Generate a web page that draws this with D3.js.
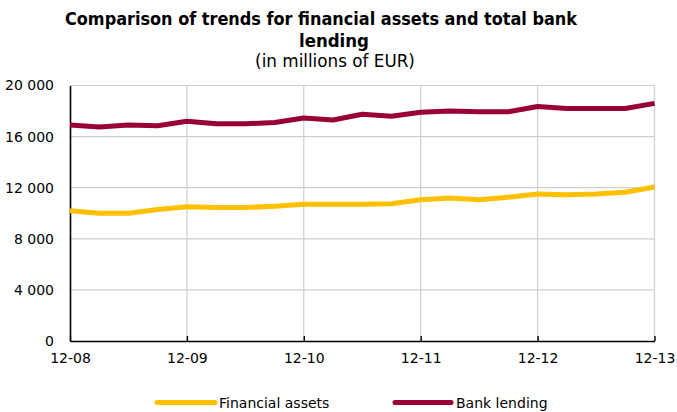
<!DOCTYPE html>
<html>
<head>
<meta charset="utf-8">
<script src="https://cdn.jsdelivr.net/npm/d3@7"></script>
<style>
  html, body { margin: 0; padding: 0; background: #fff; }
  svg { display: block; font-family: "DejaVu Sans", Verdana, sans-serif; }
</style>
</head>
<body>
<svg id="chart" width="677" height="412"></svg>
<script>
// Quarterly observations, Dec 2008 – Dec 2013 (millions of EUR)
const periods = ["12-08","03-09","06-09","09-09","12-09","03-10","06-10","09-10","12-10",
                 "03-11","06-11","09-11","12-11","03-12","06-12","09-12","12-12",
                 "03-13","06-13","09-13","12-13"];
const financialAssets = [10200,10000,10000,10300,10500,10450,10450,10550,10700,10700,10700,
                         10750,11050,11200,11050,11250,11500,11450,11500,11650,12050];
const bankLending = [16900,16750,16900,16850,17200,17000,17000,17100,17450,17300,17750,
                     17600,17900,18000,17950,17950,18350,18200,18200,18200,18600];
const xTickLabels = ["12-08","12-09","12-10","12-11","12-12","12-13"];
const yTicks = [0,4000,8000,12000,16000,20000];

const seriesList = [
  { name: "Financial assets", values: financialAssets, color: "#ffc000" },
  { name: "Bank lending", values: bankLending, color: "#990033" }
];

const svg = d3.select("#chart");
const plotLeft = 70, plotRight = 654.5, plotTop = 85.5, plotBottom = 341;

const x = d3.scalePoint().domain(periods).range([plotLeft, plotRight]);
const y = d3.scaleLinear().domain([0, 20000]).range([plotBottom, plotTop]);
const fmt = v => d3.format(",")(v).replace(/,/g, " ");

// gridlines
const grid = svg.append("g");
grid.selectAll("line.h").data(yTicks.filter(d => d > 0)).join("line")
  .attr("class", "h")
  .attr("x1", plotLeft).attr("x2", plotRight)
  .attr("y1", d => y(d)).attr("y2", d => y(d))
  .attr("stroke", "#cfcfcf").attr("stroke-width", 1.2);
grid.selectAll("line.v").data(xTickLabels.slice(1)).join("line")
  .attr("class", "v")
  .attr("x1", d => x(d)).attr("x2", d => x(d))
  .attr("y1", plotTop).attr("y2", plotBottom)
  .attr("stroke", "#cfcfcf").attr("stroke-width", 1.2);

// axes
const yAxis = d3.axisLeft(y).tickValues(yTicks).tickSize(0).tickPadding(16).tickFormat(fmt);
svg.append("g").attr("transform", `translate(${plotLeft},0)`).call(yAxis)
  .call(g => g.select(".domain").attr("stroke", "#000").attr("stroke-width", 1.6))
  .call(g => g.selectAll("text").attr("font-size", 14).attr("fill", "#000")
                .attr("font-family", "DejaVu Sans, Verdana, sans-serif"));

const xAxis = d3.axisBottom(x).tickValues(xTickLabels).tickSizeInner(-5).tickSizeOuter(0).tickPadding(12);
svg.append("g").attr("transform", `translate(0,${plotBottom})`).call(xAxis)
  .call(g => g.select(".domain").attr("stroke", "#000").attr("stroke-width", 1.6))
  .call(g => g.selectAll(".tick line").attr("stroke", "#000").attr("stroke-width", 1.4))
  .call(g => g.selectAll("text").attr("font-size", 14).attr("fill", "#000")
                .attr("font-family", "DejaVu Sans, Verdana, sans-serif"));

// series lines
const line = d3.line().x((d, i) => x(periods[i])).y(d => y(d));
svg.append("g").selectAll("path").data(seriesList).join("path")
  .attr("d", s => line(s.values))
  .attr("fill", "none")
  .attr("stroke", s => s.color)
  .attr("stroke-width", 5)
  .attr("stroke-linejoin", "round")
  .attr("stroke-linecap", "butt");

// title (bold, slightly condensed)
const title = svg.append("g").attr("text-anchor", "middle").attr("fill", "#000");
title.append("text").attr("x", 321).attr("y", 25)
  .attr("font-size", 17.5).attr("font-weight", "bold")
  .attr("textLength", 512).attr("lengthAdjust", "spacingAndGlyphs")
  .text("Comparison of trends for financial assets and total bank");
title.append("text").attr("x", 334).attr("y", 47)
  .attr("font-size", 17.5).attr("font-weight", "bold")
  .attr("textLength", 70).attr("lengthAdjust", "spacingAndGlyphs")
  .text("lending");
title.append("text").attr("x", 335).attr("y", 67)
  .attr("font-size", 16.8)
  .text("(in millions of EUR)");

// legend
const legendPos = [{ x0: 157, x1: 215, tx: 219 }, { x0: 395, x1: 451, tx: 456 }];
const legend = svg.append("g").selectAll("g").data(seriesList).join("g");
legend.append("line")
  .attr("x1", (d, i) => legendPos[i].x0).attr("x2", (d, i) => legendPos[i].x1)
  .attr("y1", 402.5).attr("y2", 402.5)
  .attr("stroke", d => d.color).attr("stroke-width", 5).attr("stroke-linecap", "round");
legend.append("text")
  .attr("x", (d, i) => legendPos[i].tx).attr("y", 408)
  .attr("font-size", 14).attr("fill", "#000")
  .text(d => d.name);
</script>
</body>
</html>
